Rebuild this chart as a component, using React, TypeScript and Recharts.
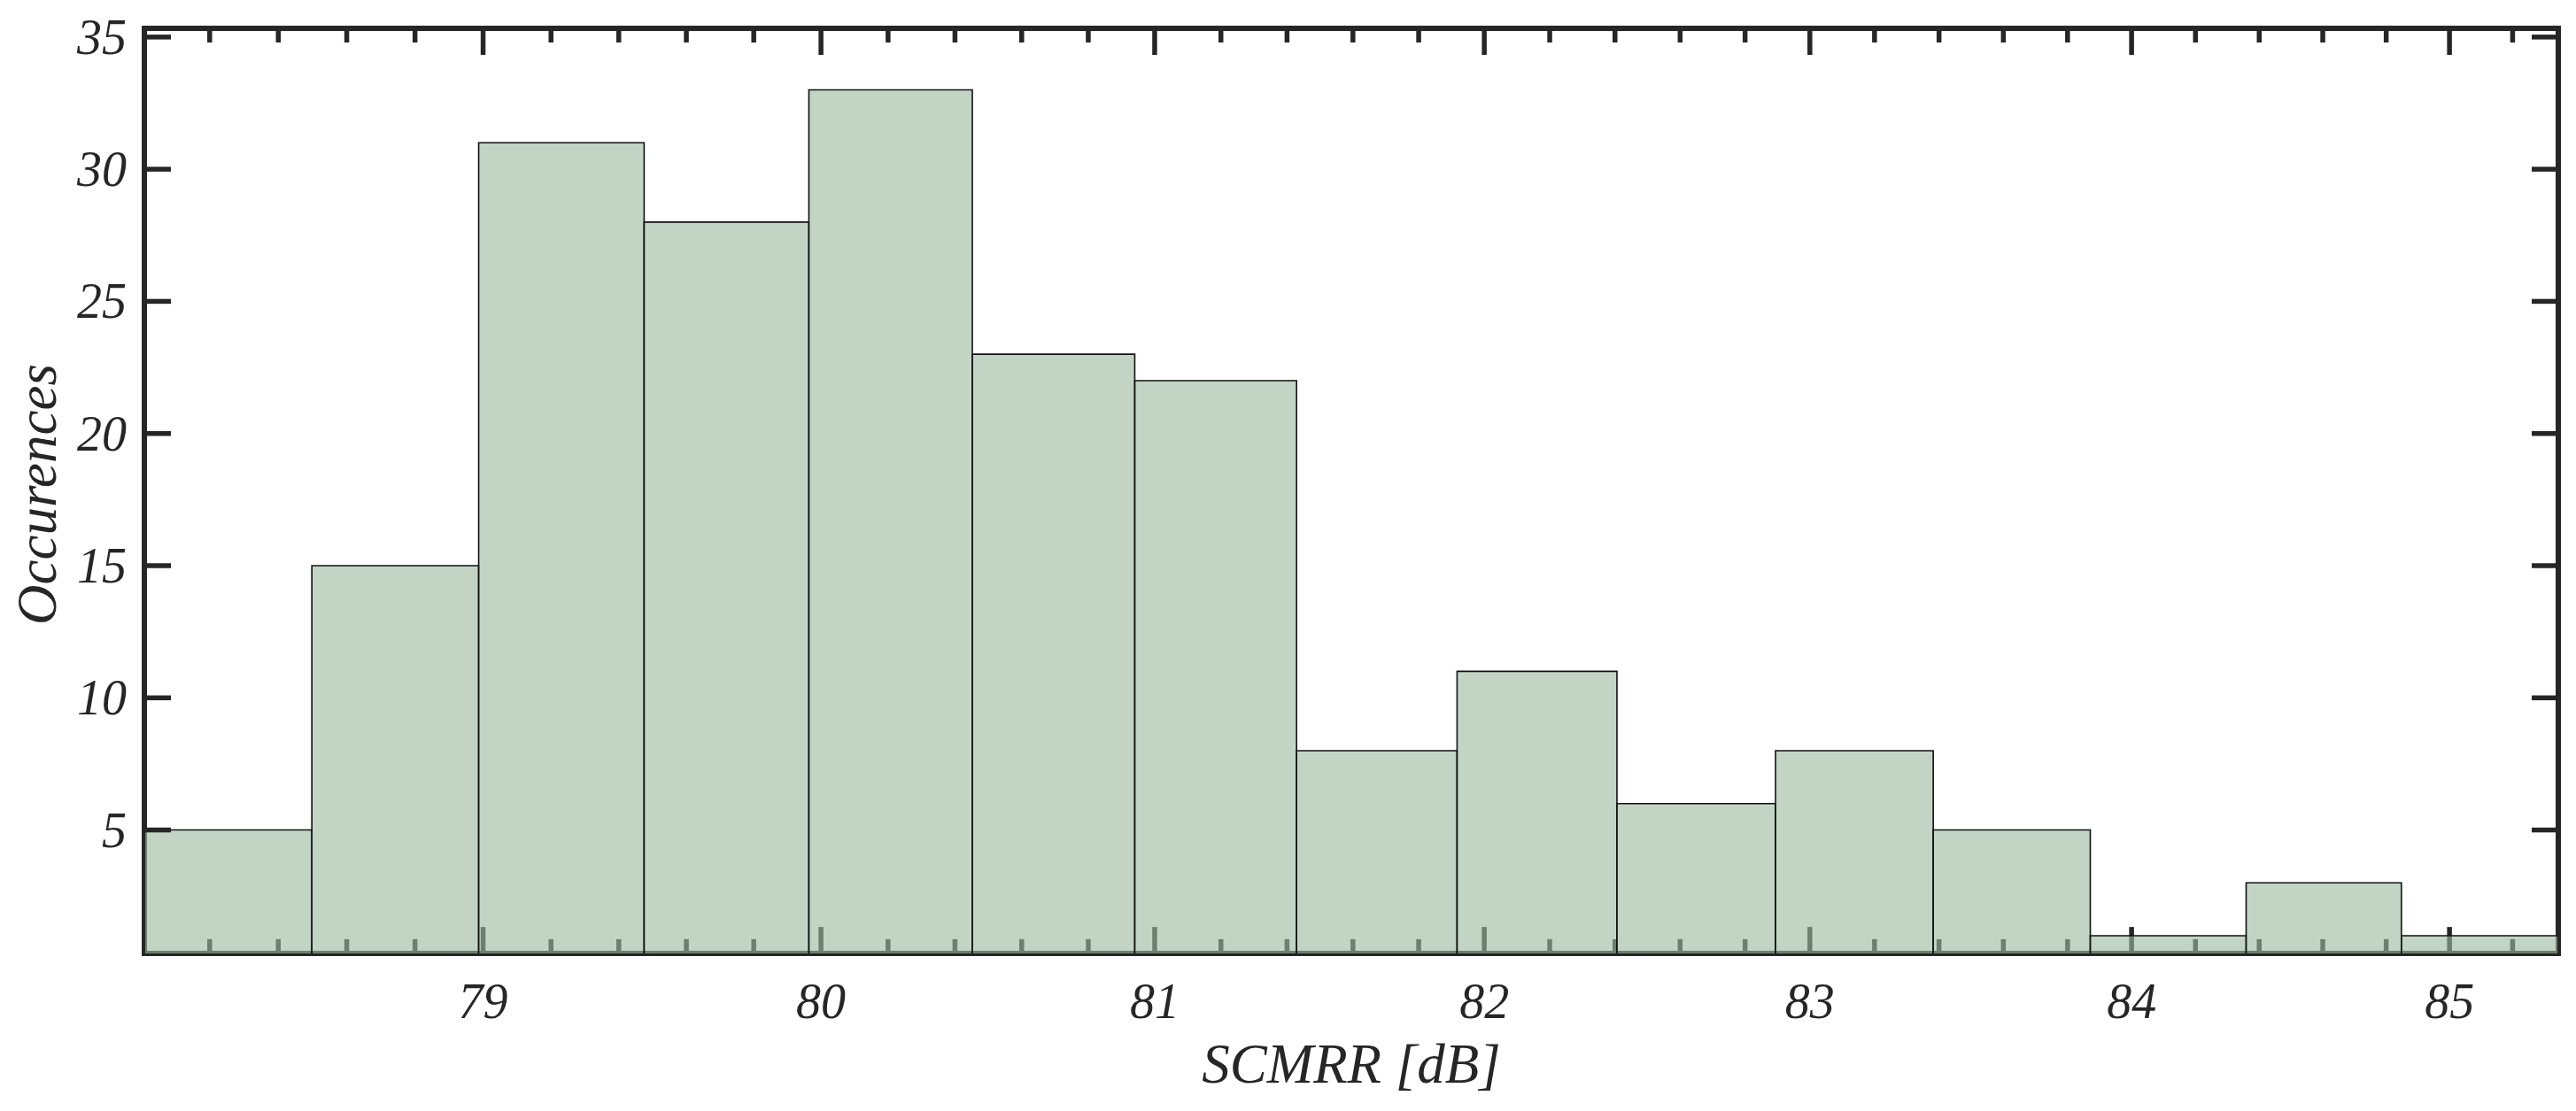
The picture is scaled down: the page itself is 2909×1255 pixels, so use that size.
import React from "react";
import { ComposedChart, XAxis, YAxis, ReferenceArea, ReferenceLine } from "recharts";

// histogram bins (SCMRR in dB)
const binEdges = [
  78.01, 78.498, 78.987, 79.475, 79.964, 80.452, 80.94, 81.429, 81.917,
  82.406, 82.894, 83.382, 83.871, 84.359, 84.848, 85.345,
];
const counts = [5, 15, 31, 28, 33, 23, 22, 8, 11, 6, 8, 5, 1, 3, 1];

const xTicks = [
  78.2, 78.4, 78.6, 78.8, 79, 79.2, 79.4, 79.6, 79.8, 80, 80.2, 80.4, 80.6,
  80.8, 81, 81.2, 81.4, 81.6, 81.8, 82, 82.2, 82.4, 82.6, 82.8, 83, 83.2,
  83.4, 83.6, 83.8, 84, 84.2, 84.4, 84.6, 84.8, 85, 85.2,
];
const yTicks = [5, 10, 15, 20, 25, 30, 35];

const X_DOMAIN = [78.01, 85.345];
const Y_DOMAIN = [0.33, 35.33];

const AXIS = "#262626";
const FONT = '"Liberation Serif", "Times New Roman", serif';

// bottom tick lengths in y units (the plot is ~29.86 px per count)
const MAJOR_LEN = 1.0;
const MINOR_LEN = 0.54;

const bins = counts.map((count, i) => ({
  lo: binEdges[i],
  hi: binEdges[i + 1],
  count,
}));

const isMajor = (v: number) => Math.abs(v - Math.round(v)) < 1e-6;

// bottom axis: labels only, the tick marks sit under the bars (drawn as reference lines)
const BottomTick = (props: any) => {
  const { x, y, payload } = props;
  const v = payload.value;
  if (!isMajor(v)) return <g />;
  return (
    <text x={x} y={y + 73} textAnchor="middle" fontFamily={FONT} fontStyle="italic" fontSize={56} fill={AXIS}>
      {Math.round(v)}
    </text>
  );
};

const TopTick = (props: any) => {
  const { x, y, payload } = props;
  const major = isMajor(payload.value);
  return <line x1={x} x2={x} y1={y} y2={y + (major ? 30 : 16)} stroke={AXIS} strokeWidth={5.5} />;
};

const LeftTick = (props: any) => {
  const { x, y, payload } = props;
  return (
    <g>
      <line x1={x} x2={x + 30} y1={y} y2={y} stroke={AXIS} strokeWidth={5.5} />
      <text x={x - 20} y={y} textAnchor="end" dominantBaseline="central" fontFamily={FONT} fontStyle="italic" fontSize={56} fill={AXIS}>
        {payload.value}
      </text>
    </g>
  );
};

const RightTick = (props: any) => {
  const { x, y } = props;
  return <line x1={x} x2={x - 30} y1={y} y2={y} stroke={AXIS} strokeWidth={5.5} />;
};

const axisLine = { stroke: AXIS, strokeWidth: 6, strokeLinecap: "square" as const };

export default function App() {
  return (
    <div style={{ position: "absolute", left: 0, top: 0, width: 2909, height: 1255, background: "#fff" }}>
      <ComposedChart
        width={2909}
        height={1255}
        data={bins}
        margin={{ top: 31, right: 19, bottom: 0, left: 0 }}
      >
        <XAxis
          xAxisId="top"
          orientation="top"
          dataKey="lo"
          type="number"
          scale="log"
          domain={X_DOMAIN}
          allowDataOverflow
          ticks={xTicks}
          interval={0}
          height={1}
          tickSize={0}
          tickMargin={0}
          tickLine={false}
          axisLine={axisLine}
          tick={<TopTick />}
        />
        <XAxis
          xAxisId="bottom"
          dataKey="lo"
          type="number"
          scale="log"
          domain={X_DOMAIN}
          allowDataOverflow
          ticks={xTicks}
          interval={0}
          height={178}
          tickSize={0}
          tickMargin={0}
          tickLine={false}
          axisLine={false}
          tick={<BottomTick />}
          label={{
            content: (p: any) => {
              const vb = p.viewBox;
              return (
                <text x={vb.x + vb.width / 2} y={vb.y + 146} textAnchor="middle" fontFamily={FONT} fontStyle="italic" fontSize={63} fill={AXIS}>
                  SCMRR [dB]
                </text>
              );
            },
          }}
        />
        <YAxis
          yAxisId="left"
          dataKey="count"
          type="number"
          domain={Y_DOMAIN}
          allowDataOverflow
          ticks={yTicks}
          interval={0}
          width={163}
          tickSize={0}
          tickMargin={0}
          tickLine={false}
          axisLine={axisLine}
          tick={<LeftTick />}
          label={{
            content: (p: any) => {
              const vb = p.viewBox;
              const cy = vb.y + vb.height / 2 + 4;
              return (
                <text x={63} y={cy} transform={`rotate(-90, 63, ${cy})`} textAnchor="middle" fontFamily={FONT} fontStyle="italic" fontSize={63} fill={AXIS}>
                  Occurences
                </text>
              );
            },
          }}
        />
        <YAxis
          yAxisId="right"
          orientation="right"
          dataKey="count"
          type="number"
          domain={Y_DOMAIN}
          allowDataOverflow
          ticks={yTicks}
          interval={0}
          width={1}
          tickSize={0}
          tickMargin={0}
          tickLine={false}
          axisLine={axisLine}
          tick={<RightTick />}
        />

        {/* bottom spine + ticks, under the semi-transparent bars */}
        <ReferenceLine
          xAxisId="bottom"
          yAxisId="left"
          y={Y_DOMAIN[0]}
          ifOverflow="visible"
          zIndex={50}
          stroke={AXIS}
          strokeWidth={6}
          strokeLinecap="square"
        />
        {xTicks.map((v) => (
          <ReferenceLine
            key={`t${v}`}
            xAxisId="bottom"
            yAxisId="left"
            ifOverflow="visible"
            zIndex={50}
            segment={[
              { x: v, y: Y_DOMAIN[0] },
              { x: v, y: Y_DOMAIN[0] + (isMajor(v) ? MAJOR_LEN : MINOR_LEN) },
            ]}
            stroke={AXIS}
            strokeWidth={5.5}
          />
        ))}

        {bins.map((b, i) => (
          <ReferenceArea
            key={i}
            xAxisId="bottom"
            yAxisId="left"
            x1={b.lo}
            x2={b.hi}
            y1={0}
            y2={b.count}
            ifOverflow="hidden"
            zIndex={700}
            fill="rgb(155,186,160)"
            fillOpacity={0.61}
            stroke="#111"
            strokeWidth={1.6}
            strokeOpacity={1}
          />
        ))}
      </ComposedChart>
    </div>
  );
}
